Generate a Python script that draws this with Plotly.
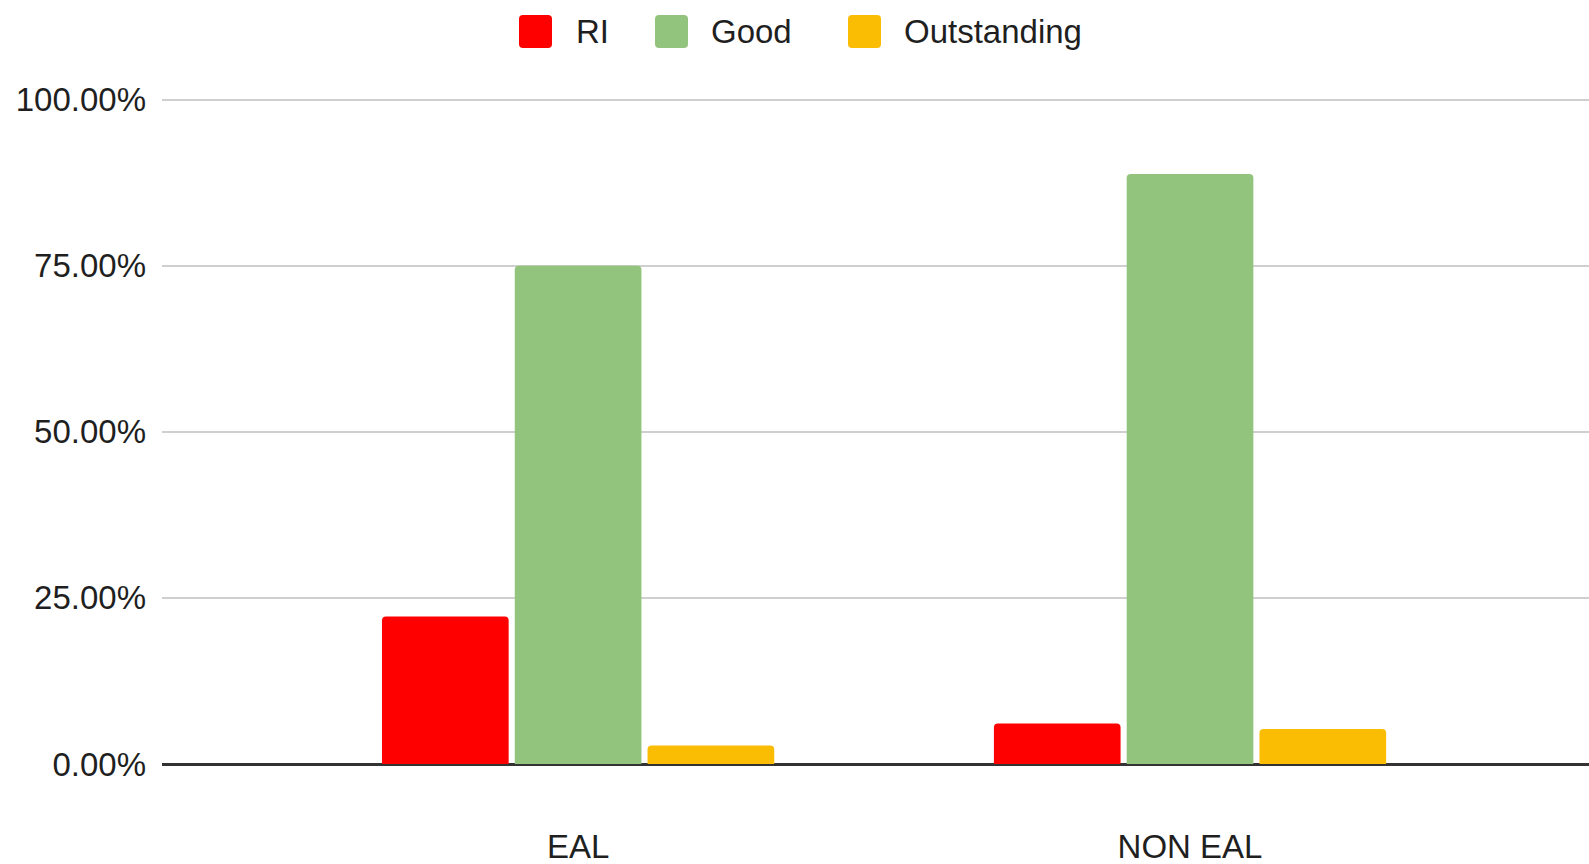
import plotly.graph_objects as go

# Share of ratings per group
categories = ["EAL", "NON EAL"]
series_names = ["RI", "Good", "Outstanding"]
ri_values = [0.2222, 0.0609]
good_values = [0.7500, 0.8880]
outstanding_values = [0.0278, 0.0525]
series_values = [ri_values, good_values, outstanding_values]
series_colors = ["#ff0000", "#93c47d", "#fbbc04"]
y_tick_values = [0, 0.25, 0.5, 0.75, 1.0]

W, H = 1589, 864
Y_TOP = 1.004
M_L, M_R, M_B = 162, 0, 100
M_T = round(100 - (Y_TOP - 1) * 664)
FONT = "Liberation Sans, Arial, sans-serif"
TEXT_COLOR = "#1f1f1f"


def paper_x(px):
    return (px - M_L) / (W - M_L - M_R)


def paper_y(py):
    return (H - M_B - py) / (H - M_T - M_B)


fig = go.Figure()
for name, vals, color in zip(series_names, series_values, series_colors):
    fig.add_trace(go.Bar(
        x=categories, y=vals, name=name,
        marker=dict(color=color, line=dict(width=0)),
        showlegend=False,
    ))

# Legend drawn as large rounded swatches with labels above the plot
swatch_left = [519, 655, 848]
label_left = [574, 709, 902]
sw = 33
r = 4
swatch_path = (f"M {r},0 L {sw - r},0 Q {sw},0 {sw},{r} L {sw},{sw - r} Q {sw},{sw} {sw - r},{sw} "
               f"L {r},{sw} Q 0,{sw} 0,{sw - r} L 0,{r} Q 0,0 {r},0 Z")
for name, color, sx, lx in zip(series_names, series_colors, swatch_left, label_left):
    fig.add_shape(
        type="path", xref="paper", yref="paper",
        xsizemode="pixel", ysizemode="pixel",
        xanchor=paper_x(sx), yanchor=paper_y(48),
        path=swatch_path, fillcolor=color, line=dict(width=0),
    )
    fig.add_annotation(
        x=paper_x(lx), y=paper_y(31.5), xref="paper", yref="paper",
        text=name, showarrow=False, xanchor="left", yanchor="middle",
        font=dict(family=FONT, size=33, color=TEXT_COLOR),
    )

fig.update_layout(
    width=W, height=H,
    margin=dict(l=M_L, r=M_R, t=M_T, b=M_B),
    paper_bgcolor="white", plot_bgcolor="white",
    barmode="group", bargap=0.349, bargroupgap=0.046,
    barcornerradius=4,
    font=dict(family=FONT, size=33, color=TEXT_COLOR),
    showlegend=False,
)
fig.update_xaxes(
    range=[-0.680, 1.652], showgrid=False, showline=False, zeroline=False,
    ticks="", ticklabelstandoff=60, automargin=False,
    tickfont=dict(family=FONT, size=33, color=TEXT_COLOR),
)
fig.update_yaxes(
    range=[0, Y_TOP], tickvals=y_tick_values, tickformat=".2%",
    showgrid=True, gridcolor="#cfcfcf", gridwidth=2,
    zeroline=True, zerolinecolor="#333333", zerolinewidth=3,
    showline=False, ticks="", ticklabelstandoff=15, automargin=False,
    tickfont=dict(family=FONT, size=33, color=TEXT_COLOR),
)

fig.write_html("out.html")
